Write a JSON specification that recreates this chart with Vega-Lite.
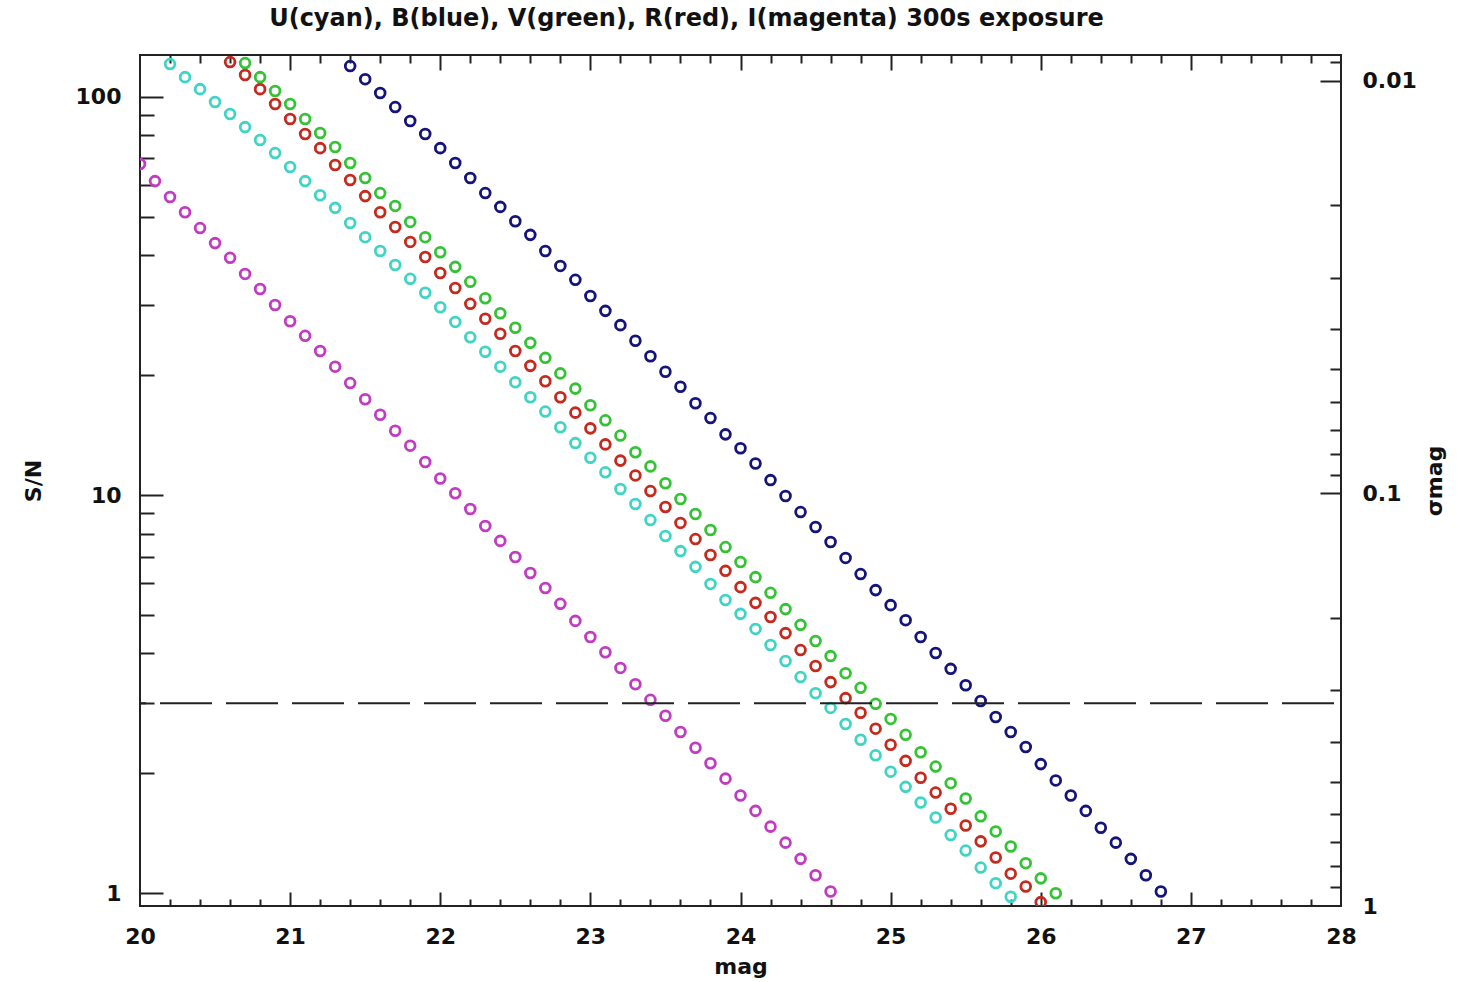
{
  "$schema": "https://vega.github.io/schema/vega-lite/v6.json",
  "width": 1201,
  "height": 851,
  "autosize": {"type": "none"},
  "padding": {"left": 140, "top": 55, "right": 129, "bottom": 76},
  "background": "white",
  "title": {"text": "U(cyan), B(blue), V(green), R(red), I(magenta) 300s exposure", "font": "DejaVu Sans", "fontSize": 24, "fontWeight": "bold", "color": "#111", "dx": -54, "offset": 21, "anchor": "middle"},
  "config": {
    "view": {"stroke": "#222", "strokeWidth": 2},
    "axis": {"grid": false, "domain": false, "labelFont": "DejaVu Sans", "labelFontSize": 22, "labelFontWeight": "bold", "labelColor": "#111", "tickColor": "#222", "tickWidth": 2, "titleFont": "DejaVu Sans", "titleFontSize": 22, "titleFontWeight": "bold", "titleColor": "#111", "labelFlush": false, "labelOverlap": false, "labelBound": false}
  },
  "datasets": {
    "pts": [
      {"band":"I","mag":20.0,"sn":67.8},{"band":"I","mag":20.1,"sn":61.4},{"band":"I","mag":20.2,"sn":56.0},{"band":"I","mag":20.3,"sn":51.3},{"band":"I","mag":20.4,"sn":46.8},{"band":"I","mag":20.5,"sn":42.9},{"band":"I","mag":20.6,"sn":39.4},{"band":"I","mag":20.7,"sn":35.9},{"band":"I","mag":20.8,"sn":32.9},{"band":"I","mag":20.9,"sn":30.0},{"band":"I","mag":21.0,"sn":27.3},{"band":"I","mag":21.1,"sn":25.1},{"band":"I","mag":21.2,"sn":23.0},{"band":"I","mag":21.3,"sn":21.0},{"band":"I","mag":21.4,"sn":19.1},{"band":"I","mag":21.5,"sn":17.4},{"band":"I","mag":21.6,"sn":15.9},{"band":"I","mag":21.7,"sn":14.5},{"band":"I","mag":21.8,"sn":13.3},{"band":"I","mag":21.9,"sn":12.1},{"band":"I","mag":22.0,"sn":11.0},{"band":"I","mag":22.1,"sn":10.1},{"band":"I","mag":22.2,"sn":9.22},{"band":"I","mag":22.3,"sn":8.36},{"band":"I","mag":22.4,"sn":7.67},{"band":"I","mag":22.5,"sn":6.99},{"band":"I","mag":22.6,"sn":6.37},{"band":"I","mag":22.7,"sn":5.84},{"band":"I","mag":22.8,"sn":5.33},{"band":"I","mag":22.9,"sn":4.83},{"band":"I","mag":23.0,"sn":4.40},{"band":"I","mag":23.1,"sn":4.03},{"band":"I","mag":23.2,"sn":3.68},{"band":"I","mag":23.3,"sn":3.35},{"band":"I","mag":23.4,"sn":3.06},{"band":"I","mag":23.5,"sn":2.79},{"band":"I","mag":23.6,"sn":2.54},{"band":"I","mag":23.7,"sn":2.32},{"band":"I","mag":23.8,"sn":2.12},{"band":"I","mag":23.9,"sn":1.94},{"band":"I","mag":24.0,"sn":1.76},{"band":"I","mag":24.1,"sn":1.61},{"band":"I","mag":24.2,"sn":1.47},{"band":"I","mag":24.3,"sn":1.34},{"band":"I","mag":24.4,"sn":1.22},{"band":"I","mag":24.5,"sn":1.11},{"band":"I","mag":24.6,"sn":1.01},
      {"band":"U","mag":20.2,"sn":120.8},{"band":"U","mag":20.3,"sn":112.0},{"band":"U","mag":20.4,"sn":104.5},{"band":"U","mag":20.5,"sn":97.0},{"band":"U","mag":20.6,"sn":90.5},{"band":"U","mag":20.7,"sn":83.9},{"band":"U","mag":20.8,"sn":77.9},{"band":"U","mag":20.9,"sn":72.2},{"band":"U","mag":21.0,"sn":66.6},{"band":"U","mag":21.1,"sn":61.4},{"band":"U","mag":21.2,"sn":56.6},{"band":"U","mag":21.3,"sn":52.6},{"band":"U","mag":21.4,"sn":48.2},{"band":"U","mag":21.5,"sn":44.4},{"band":"U","mag":21.6,"sn":41.0},{"band":"U","mag":21.7,"sn":37.8},{"band":"U","mag":21.8,"sn":34.9},{"band":"U","mag":21.9,"sn":32.2},{"band":"U","mag":22.0,"sn":29.6},{"band":"U","mag":22.1,"sn":27.2},{"band":"U","mag":22.2,"sn":24.9},{"band":"U","mag":22.3,"sn":22.9},{"band":"U","mag":22.4,"sn":21.0},{"band":"U","mag":22.5,"sn":19.2},{"band":"U","mag":22.6,"sn":17.6},{"band":"U","mag":22.7,"sn":16.2},{"band":"U","mag":22.8,"sn":14.8},{"band":"U","mag":22.9,"sn":13.5},{"band":"U","mag":23.0,"sn":12.4},{"band":"U","mag":23.1,"sn":11.4},{"band":"U","mag":23.2,"sn":10.35},{"band":"U","mag":23.3,"sn":9.49},{"band":"U","mag":23.4,"sn":8.65},{"band":"U","mag":23.5,"sn":7.89},{"band":"U","mag":23.6,"sn":7.23},{"band":"U","mag":23.7,"sn":6.60},{"band":"U","mag":23.8,"sn":5.98},{"band":"U","mag":23.9,"sn":5.45},{"band":"U","mag":24.0,"sn":5.03},{"band":"U","mag":24.1,"sn":4.61},{"band":"U","mag":24.2,"sn":4.20},{"band":"U","mag":24.3,"sn":3.83},{"band":"U","mag":24.4,"sn":3.49},{"band":"U","mag":24.5,"sn":3.18},{"band":"U","mag":24.6,"sn":2.92},{"band":"U","mag":24.7,"sn":2.66},{"band":"U","mag":24.8,"sn":2.43},{"band":"U","mag":24.9,"sn":2.22},{"band":"U","mag":25.0,"sn":2.02},{"band":"U","mag":25.1,"sn":1.85},{"band":"U","mag":25.2,"sn":1.69},{"band":"U","mag":25.3,"sn":1.55},{"band":"U","mag":25.4,"sn":1.40},{"band":"U","mag":25.5,"sn":1.28},{"band":"U","mag":25.6,"sn":1.16},{"band":"U","mag":25.7,"sn":1.06},{"band":"U","mag":25.8,"sn":0.98},
      {"band":"R","mag":20.6,"sn":122.2},{"band":"R","mag":20.7,"sn":113.4},{"band":"R","mag":20.8,"sn":104.5},{"band":"R","mag":20.9,"sn":95.9},{"band":"R","mag":21.0,"sn":87.9},{"band":"R","mag":21.1,"sn":80.6},{"band":"R","mag":21.2,"sn":74.3},{"band":"R","mag":21.3,"sn":67.4},{"band":"R","mag":21.4,"sn":61.8},{"band":"R","mag":21.5,"sn":56.3},{"band":"R","mag":21.6,"sn":51.3},{"band":"R","mag":21.7,"sn":47.1},{"band":"R","mag":21.8,"sn":43.2},{"band":"R","mag":21.9,"sn":39.6},{"band":"R","mag":22.0,"sn":36.1},{"band":"R","mag":22.1,"sn":33.1},{"band":"R","mag":22.2,"sn":30.2},{"band":"R","mag":22.3,"sn":27.7},{"band":"R","mag":22.4,"sn":25.4},{"band":"R","mag":22.5,"sn":23.0},{"band":"R","mag":22.6,"sn":21.1},{"band":"R","mag":22.7,"sn":19.3},{"band":"R","mag":22.8,"sn":17.6},{"band":"R","mag":22.9,"sn":16.1},{"band":"R","mag":23.0,"sn":14.7},{"band":"R","mag":23.1,"sn":13.4},{"band":"R","mag":23.2,"sn":12.2},{"band":"R","mag":23.3,"sn":11.2},{"band":"R","mag":23.4,"sn":10.23},{"band":"R","mag":23.5,"sn":9.33},{"band":"R","mag":23.6,"sn":8.51},{"band":"R","mag":23.7,"sn":7.75},{"band":"R","mag":23.8,"sn":7.07},{"band":"R","mag":23.9,"sn":6.45},{"band":"R","mag":24.0,"sn":5.87},{"band":"R","mag":24.1,"sn":5.36},{"band":"R","mag":24.2,"sn":4.94},{"band":"R","mag":24.3,"sn":4.50},{"band":"R","mag":24.4,"sn":4.08},{"band":"R","mag":24.5,"sn":3.72},{"band":"R","mag":24.6,"sn":3.39},{"band":"R","mag":24.7,"sn":3.09},{"band":"R","mag":24.8,"sn":2.84},{"band":"R","mag":24.9,"sn":2.59},{"band":"R","mag":25.0,"sn":2.36},{"band":"R","mag":25.1,"sn":2.15},{"band":"R","mag":25.2,"sn":1.95},{"band":"R","mag":25.3,"sn":1.79},{"band":"R","mag":25.4,"sn":1.63},{"band":"R","mag":25.5,"sn":1.48},{"band":"R","mag":25.6,"sn":1.35},{"band":"R","mag":25.7,"sn":1.23},{"band":"R","mag":25.8,"sn":1.12},{"band":"R","mag":25.9,"sn":1.04},{"band":"R","mag":26.0,"sn":0.95},
      {"band":"V","mag":20.7,"sn":121.5},{"band":"V","mag":20.8,"sn":112.0},{"band":"V","mag":20.9,"sn":103.4},{"band":"V","mag":21.0,"sn":95.9},{"band":"V","mag":21.1,"sn":87.9},{"band":"V","mag":21.2,"sn":81.1},{"band":"V","mag":21.3,"sn":74.8},{"band":"V","mag":21.4,"sn":68.2},{"band":"V","mag":21.5,"sn":62.5},{"band":"V","mag":21.6,"sn":57.3},{"band":"V","mag":21.7,"sn":53.2},{"band":"V","mag":21.8,"sn":48.5},{"band":"V","mag":21.9,"sn":44.4},{"band":"V","mag":22.0,"sn":40.7},{"band":"V","mag":22.1,"sn":37.4},{"band":"V","mag":22.2,"sn":34.3},{"band":"V","mag":22.3,"sn":31.2},{"band":"V","mag":22.4,"sn":28.6},{"band":"V","mag":22.5,"sn":26.3},{"band":"V","mag":22.6,"sn":24.1},{"band":"V","mag":22.7,"sn":22.1},{"band":"V","mag":22.8,"sn":20.2},{"band":"V","mag":22.9,"sn":18.5},{"band":"V","mag":23.0,"sn":16.8},{"band":"V","mag":23.1,"sn":15.4},{"band":"V","mag":23.2,"sn":14.1},{"band":"V","mag":23.3,"sn":12.8},{"band":"V","mag":23.4,"sn":11.8},{"band":"V","mag":23.5,"sn":10.7},{"band":"V","mag":23.6,"sn":9.77},{"band":"V","mag":23.7,"sn":8.96},{"band":"V","mag":23.8,"sn":8.17},{"band":"V","mag":23.9,"sn":7.40},{"band":"V","mag":24.0,"sn":6.79},{"band":"V","mag":24.1,"sn":6.22},{"band":"V","mag":24.2,"sn":5.68},{"band":"V","mag":24.3,"sn":5.17},{"band":"V","mag":24.4,"sn":4.72},{"band":"V","mag":24.5,"sn":4.30},{"band":"V","mag":24.6,"sn":3.94},{"band":"V","mag":24.7,"sn":3.57},{"band":"V","mag":24.8,"sn":3.28},{"band":"V","mag":24.9,"sn":2.99},{"band":"V","mag":25.0,"sn":2.74},{"band":"V","mag":25.1,"sn":2.50},{"band":"V","mag":25.2,"sn":2.26},{"band":"V","mag":25.3,"sn":2.08},{"band":"V","mag":25.4,"sn":1.89},{"band":"V","mag":25.5,"sn":1.73},{"band":"V","mag":25.6,"sn":1.56},{"band":"V","mag":25.7,"sn":1.43},{"band":"V","mag":25.8,"sn":1.31},{"band":"V","mag":25.9,"sn":1.19},{"band":"V","mag":26.0,"sn":1.09},{"band":"V","mag":26.1,"sn":1.00},
      {"band":"B","mag":21.4,"sn":119.4},{"band":"B","mag":21.5,"sn":110.7},{"band":"B","mag":21.6,"sn":102.2},{"band":"B","mag":21.7,"sn":94.2},{"band":"B","mag":21.8,"sn":86.9},{"band":"B","mag":21.9,"sn":80.6},{"band":"B","mag":22.0,"sn":74.3},{"band":"B","mag":22.1,"sn":68.2},{"band":"B","mag":22.2,"sn":62.5},{"band":"B","mag":22.3,"sn":57.3},{"band":"B","mag":22.4,"sn":52.9},{"band":"B","mag":22.5,"sn":48.7},{"band":"B","mag":22.6,"sn":45.0},{"band":"B","mag":22.7,"sn":41.0},{"band":"B","mag":22.8,"sn":37.6},{"band":"B","mag":22.9,"sn":34.7},{"band":"B","mag":23.0,"sn":31.6},{"band":"B","mag":23.1,"sn":29.0},{"band":"B","mag":23.2,"sn":26.7},{"band":"B","mag":23.3,"sn":24.4},{"band":"B","mag":23.4,"sn":22.3},{"band":"B","mag":23.5,"sn":20.4},{"band":"B","mag":23.6,"sn":18.7},{"band":"B","mag":23.7,"sn":17.0},{"band":"B","mag":23.8,"sn":15.6},{"band":"B","mag":23.9,"sn":14.2},{"band":"B","mag":24.0,"sn":13.1},{"band":"B","mag":24.1,"sn":12.0},{"band":"B","mag":24.2,"sn":10.9},{"band":"B","mag":24.3,"sn":9.94},{"band":"B","mag":24.4,"sn":9.06},{"band":"B","mag":24.5,"sn":8.31},{"band":"B","mag":24.6,"sn":7.62},{"band":"B","mag":24.7,"sn":6.95},{"band":"B","mag":24.8,"sn":6.33},{"band":"B","mag":24.9,"sn":5.77},{"band":"B","mag":25.0,"sn":5.29},{"band":"B","mag":25.1,"sn":4.85},{"band":"B","mag":25.2,"sn":4.40},{"band":"B","mag":25.3,"sn":4.01},{"band":"B","mag":25.4,"sn":3.66},{"band":"B","mag":25.5,"sn":3.33},{"band":"B","mag":25.6,"sn":3.04},{"band":"B","mag":25.7,"sn":2.77},{"band":"B","mag":25.8,"sn":2.54},{"band":"B","mag":25.9,"sn":2.33},{"band":"B","mag":26.0,"sn":2.11},{"band":"B","mag":26.1,"sn":1.92},{"band":"B","mag":26.2,"sn":1.76},{"band":"B","mag":26.3,"sn":1.61},{"band":"B","mag":26.4,"sn":1.46},{"band":"B","mag":26.5,"sn":1.34},{"band":"B","mag":26.6,"sn":1.22},{"band":"B","mag":26.7,"sn":1.11},{"band":"B","mag":26.8,"sn":1.01}
    ],
    "sig": [{"sigma": 0.00865}, {"sigma": 1}]
  },
  "layer": [
    {
      "data": {"name": "pts"},
      "mark": {"type": "point", "shape": "circle", "filled": false, "size": 95, "strokeWidth": 2.8, "opacity": 1, "clip": true},
      "encoding": {
        "x": {"field": "mag", "type": "quantitative", "scale": {"domain": [20, 28], "nice": false, "zero": false},
              "axis": {"orient": "bottom", "values": [20, 21, 22, 23, 24, 25, 26, 27, 28], "ticks": false, "labelPadding": 20, "title": "mag", "titlePadding": 9}},
        "y": {"field": "sn", "type": "quantitative", "scale": {"type": "log", "domain": [0.929, 127.3], "nice": false},
              "axis": {"orient": "left", "values": [1, 10, 100], "format": "~g", "ticks": false, "labelPadding": 19, "title": "S/N", "titlePadding": 30}},
        "color": {"field": "band", "type": "nominal", "scale": {"domain": ["U", "B", "V", "R", "I"], "range": ["#3fd4c4", "#14147a", "#36c236", "#c42a1e", "#c03cc0"]}, "legend": null}
      }
    },
    {
      "data": {"values": [{}]},
      "mark": {"type": "rule", "color": "#222", "strokeWidth": 2, "strokeDash": [52, 14], "strokeDashOffset": 59},
      "encoding": {"y": {"datum": 3, "type": "quantitative", "scale": {"type": "log", "domain": [0.929, 127.3], "nice": false}, "axis": null}}
    },
    {
      "data": {"name": "pts"},
      "mark": {"type": "point", "opacity": 0},
      "encoding": {
        "x": {"field": "mag", "type": "quantitative", "scale": {"domain": [20, 28], "nice": false, "zero": false},
              "axis": {"orient": "bottom", "values": [21, 22, 23, 24, 25, 26, 27], "labels": false, "tickSize": -14, "title": null}},
        "y": {"field": "sn", "type": "quantitative", "scale": {"type": "log", "domain": [0.929, 127.3], "nice": false},
              "axis": {"orient": "left", "values": [1, 10, 100], "labels": false, "tickSize": -23, "title": null}}
      }
    },
    {
      "data": {"name": "pts"},
      "mark": {"type": "point", "opacity": 0},
      "encoding": {
        "x": {"field": "mag", "type": "quantitative", "scale": {"domain": [20, 28], "nice": false, "zero": false},
              "axis": {"orient": "top", "values": [21, 22, 23, 24, 25, 26, 27], "labels": false, "tickSize": -15, "title": null}},
        "y": {"field": "sn", "type": "quantitative", "scale": {"type": "log", "domain": [0.929, 127.3], "nice": false},
              "axis": {"orient": "left", "values": [2, 3, 4, 5, 6, 7, 8, 9, 20, 30, 40, 50, 60, 70, 80, 90], "labels": false, "tickSize": -14, "title": null}}
      }
    },
    {
      "data": {"name": "pts"},
      "mark": {"type": "point", "opacity": 0},
      "encoding": {
        "x": {"field": "mag", "type": "quantitative", "scale": {"domain": [20, 28], "nice": false, "zero": false},
              "axis": {"orient": "bottom", "values": [20.2, 20.4, 20.6, 20.8, 21.2, 21.4, 21.6, 21.8, 22.2, 22.4, 22.6, 22.8, 23.2, 23.4, 23.6, 23.8, 24.2, 24.4, 24.6, 24.8, 25.2, 25.4, 25.6, 25.8, 26.2, 26.4, 26.6, 26.8, 27.2, 27.4, 27.6, 27.8], "labels": false, "tickSize": -7, "title": null}}
      }
    },
    {
      "data": {"name": "pts"},
      "mark": {"type": "point", "opacity": 0},
      "encoding": {
        "x": {"field": "mag", "type": "quantitative", "scale": {"domain": [20, 28], "nice": false, "zero": false},
              "axis": {"orient": "top", "values": [20.2, 20.4, 20.6, 20.8, 21.2, 21.4, 21.6, 21.8, 22.2, 22.4, 22.6, 22.8, 23.2, 23.4, 23.6, 23.8, 24.2, 24.4, 24.6, 24.8, 25.2, 25.4, 25.6, 25.8, 26.2, 26.4, 26.6, 26.8, 27.2, 27.4, 27.6, 27.8], "labels": false, "tickSize": -8, "title": null}}
      }
    },
    {
      "data": {"name": "sig"},
      "mark": {"type": "point", "opacity": 0},
      "encoding": {
        "y": {"field": "sigma", "type": "quantitative", "scale": {"type": "log", "domain": [0.00865, 1], "nice": false, "reverse": true},
              "axis": {"orient": "right", "values": [0.01, 0.1, 1], "format": "~g", "ticks": false, "labelPadding": 21, "title": "σmag", "titleAngle": 270, "titleBaseline": "top", "titlePadding": 8}}
      }
    },
    {
      "data": {"name": "sig"},
      "mark": {"type": "point", "opacity": 0},
      "encoding": {
        "y": {"field": "sigma", "type": "quantitative", "scale": {"type": "log", "domain": [0.00865, 1], "nice": false, "reverse": true},
              "axis": {"orient": "right", "values": [0.01, 0.1], "labels": false, "tickSize": -21, "title": null}}
      }
    },
    {
      "data": {"name": "sig"},
      "mark": {"type": "point", "opacity": 0},
      "encoding": {
        "y": {"field": "sigma", "type": "quantitative", "scale": {"type": "log", "domain": [0.00865, 1], "nice": false, "reverse": true},
              "axis": {"orient": "right", "values": [0.009, 0.02, 0.03, 0.04, 0.05, 0.06, 0.07, 0.08, 0.09, 0.2, 0.3, 0.4, 0.5, 0.6, 0.7, 0.8, 0.9], "labels": false, "tickSize": -11, "title": null}}
      }
    }
  ],
  "resolve": {"scale": {"y": "independent"}, "axis": {"x": "independent", "y": "independent"}}
}
